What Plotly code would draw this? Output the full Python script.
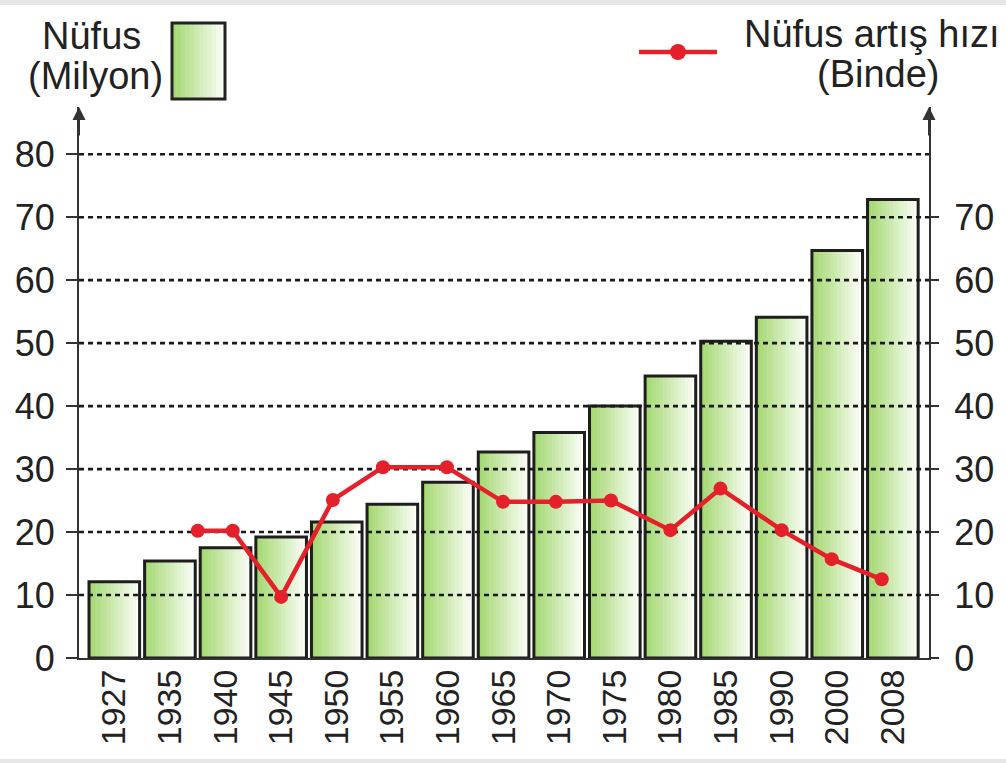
import plotly.graph_objects as go

# ---------------- data ----------------
years = ["1927", "1935", "1940", "1945", "1950", "1955", "1960", "1965",
         "1970", "1975", "1980", "1985", "1990", "2000", "2008"]
population = [12.1, 15.4, 17.5, 19.2, 21.6, 24.4, 27.9, 32.7,
              35.8, 40.0, 44.8, 50.3, 54.1, 64.7, 72.8]
# growth rate points, placed along the year axis (category index units)
rate_pos = [1.5, 2.13, 3.0, 3.93, 4.83, 5.98, 6.99, 7.94, 8.93, 10.0, 10.9, 12.0, 12.9, 13.8]
rate = [20.2, 20.2, 9.7, 25.1, 30.3, 30.3, 24.8, 24.8, 25.0, 20.3, 26.9, 20.3, 15.7, 12.5]
left_ticks = [0, 10, 20, 30, 40, 50, 60, 70, 80]
right_ticks = [0, 10, 20, 30, 40, 50, 60, 70]
grid_vals = [10, 20, 30, 40, 50, 60, 70, 80]

# ---------------- styling ----------------
W, H = 1006, 763
ML, MR, MT, MB = 79, 77, 107, 105
PW, PH = W - ML - MR, H - MT - MB
XR = [-0.635, 14.65]
YR = [0, 87.5]
FONT = "Liberation Sans, Arial, Helvetica, sans-serif"
TXT = "#222222"
AX = "#333333"
RED = "#e4202a"
G0 = (165, 216, 115)
G1 = (250, 253, 246)
NSTRIP = 14
BW = 0.91


def mix(t):
    return "rgb(%d,%d,%d)" % tuple(round(a + (b - a) * t) for a, b in zip(G0, G1))


def px_x(p):
    return (p - ML) / PW


def px_y(p):
    return (H - MB - p) / PH


xs = list(range(len(years)))
fig = go.Figure()

# gradient bars built from vertical strips
for k in range(NSTRIP):
    fig.add_trace(go.Bar(
        x=xs, y=population,
        width=BW / NSTRIP * 1.15,
        offset=-BW / 2 + k * BW / NSTRIP,
        marker=dict(color=mix(k / (NSTRIP - 1)), line=dict(width=0)),
        hoverinfo="skip", showlegend=False,
    ))
# bar outlines
fig.add_trace(go.Bar(
    x=xs, y=population, width=BW,
    marker=dict(color="rgba(0,0,0,0)", line=dict(color="#1e1e1e", width=3)),
    hoverinfo="skip", showlegend=False,
))

# dashed gridlines drawn over the bars
gx, gy = [], []
for v in grid_vals:
    gx += [XR[0], XR[1], None]
    gy += [v, v, None]
fig.add_trace(go.Scatter(
    x=gx, y=gy, mode="lines",
    line=dict(color="#1a1a1a", width=2.6, dash="5px,4px"),
    hoverinfo="skip", showlegend=False,
))

# growth rate line
fig.add_trace(go.Scatter(
    x=rate_pos, y=rate, yaxis="y2", mode="lines+markers",
    line=dict(color=RED, width=4.5),
    marker=dict(color=RED, size=14),
    hoverinfo="skip", showlegend=False,
))

shapes = []
# legend box (gradient)
bx0, bx1, by0, by1 = 172, 225, 23, 99
n = 12
for k in range(n):
    shapes.append(dict(type="rect", xref="paper", yref="paper",
                       x0=px_x(bx0 + (bx1 - bx0) * k / n),
                       x1=px_x(bx0 + (bx1 - bx0) * (k + 1.1) / n),
                       y0=px_y(by1), y1=px_y(by0),
                       fillcolor=mix(k / (n - 1)), line=dict(width=0), layer="above"))
shapes.append(dict(type="rect", xref="paper", yref="paper",
                   x0=px_x(bx0), x1=px_x(bx1), y0=px_y(by1), y1=px_y(by0),
                   line=dict(color="#222222", width=3), layer="above"))
# line legend
shapes.append(dict(type="line", xref="paper", yref="paper",
                   x0=px_x(639), x1=px_x(717), y0=px_y(52), y1=px_y(52),
                   line=dict(color=RED, width=4.5), layer="above"))
shapes.append(dict(type="circle", xref="paper", yref="paper",
                   x0=px_x(670), x1=px_x(686), y0=px_y(60), y1=px_y(44),
                   fillcolor=RED, line=dict(width=0), layer="above"))
# thin grey frame bands at top and bottom of the picture
shapes.append(dict(type="rect", xref="paper", yref="paper",
                   x0=px_x(0), x1=px_x(W), y0=px_y(5), y1=px_y(0),
                   fillcolor="#e6e6e6", line=dict(width=0), layer="above"))
shapes.append(dict(type="rect", xref="paper", yref="paper",
                   x0=px_x(0), x1=px_x(W), y0=px_y(H), y1=px_y(759),
                   fillcolor="#e6e6e6", line=dict(width=0), layer="above"))

annotations = []
# axis arrowheads
for xp in (0, 1):
    annotations.append(dict(x=xp, xref="paper", y=YR[1], yref="y", ax=0, ay=30,
                            text="", showarrow=True, arrowhead=2, arrowsize=1.3,
                            arrowwidth=2, arrowcolor=AX))
# titles
tf = dict(family=FONT, size=38, color=TXT)
annotations += [
    dict(text="Nüfus", x=px_x(91), y=px_y(36), xref="paper", yref="paper",
         showarrow=False, font=tf, xanchor="center", yanchor="middle"),
    dict(text="(Milyon)", x=px_x(95), y=px_y(76), xref="paper", yref="paper",
         showarrow=False, font=tf, xanchor="center", yanchor="middle"),
    dict(text="Nüfus artış hızı", x=px_x(872), y=px_y(34), xref="paper", yref="paper",
         showarrow=False, font=tf, xanchor="center", yanchor="middle"),
    dict(text="(Binde)", x=px_x(878), y=px_y(74), xref="paper", yref="paper",
         showarrow=False, font=tf, xanchor="center", yanchor="middle"),
]

fig.update_layout(
    width=W, height=H,
    margin=dict(l=ML, r=MR, t=MT, b=MB, pad=0, autoexpand=False),
    paper_bgcolor="white", plot_bgcolor="white",
    barmode="overlay",
    showlegend=False,
    font=dict(family=FONT, color=TXT),
    xaxis=dict(range=XR, tickvals=xs, ticktext=years, tickangle=-90,
               showline=True, linecolor=AX, linewidth=2, ticks="",
               showgrid=False, zeroline=False, automargin=False,
               tickfont=dict(family=FONT, size=34, color=TXT),
               ticklabelstandoff=-4),
    yaxis=dict(range=YR, tickvals=left_ticks, showline=True, linecolor=AX, linewidth=2,
               ticks="outside", ticklen=11, tickwidth=2, tickcolor=AX,
               showgrid=False, zeroline=False, automargin=False,
               tickfont=dict(family=FONT, size=36, color=TXT),
               ticklabelstandoff=4),
    yaxis2=dict(range=YR, tickvals=right_ticks, overlaying="y", side="right",
                showline=True, linecolor=AX, linewidth=2,
                ticks="outside", ticklen=8, tickwidth=2, tickcolor=AX,
                showgrid=False, zeroline=False, automargin=False,
                tickfont=dict(family=FONT, size=36, color=TXT),
                ticklabelstandoff=8),
    shapes=shapes,
    annotations=annotations,
)

fig.write_html("out.html", config={"displayModeBar": False},
               post_script="document.body.style.margin='0';document.body.style.padding='0';document.body.style.overflow='hidden';")
